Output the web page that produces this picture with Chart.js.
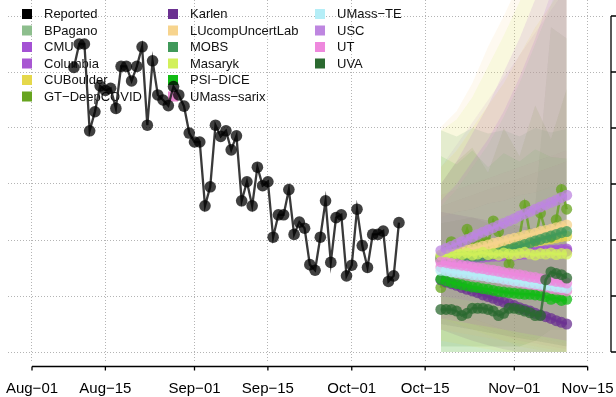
<!DOCTYPE html>
<html>
<head>
<meta charset="utf-8">
<script src="https://cdn.jsdelivr.net/npm/chart.js@4.4.0/dist/chart.umd.min.js"></script>
<style>
  html, body { margin: 0; padding: 0; background: #fff; overflow: hidden; }
</style>
</head>
<body>
<canvas id="forecastChart" width="616" height="397"></canvas>
<script>
// ---- data ----
const tickDates = ['2022-08-01', '2022-08-15', '2022-09-01', '2022-09-15', '2022-10-01', '2022-10-15', '2022-11-01', '2022-11-15'];
const tickLabels = ['Aug−01', 'Aug−15', 'Sep−01', 'Sep−15', 'Oct−01', 'Oct−15', 'Nov−01', 'Nov−15'];
const yTicks = [0, 100, 200, 300, 400, 500, 600];

const reportedStart = '2022-08-09';
const reported = [508, 550, 550, 395, 429, 475, 467, 471, 435, 510, 510, 484, 510, 545, 405, 520, 459, 450, 440, 474,
  459, 439, 391, 375, 375, 261, 295, 405, 385, 395, 361, 386, 270, 304, 261, 330, 297, 304, 205, 245,
  245, 290, 210, 232, 221, 156, 146, 205, 270, 160, 240, 245, 136, 155, 255, 190, 151, 210, 210, 216,
  126, 136, 231];

const forecastStart = '2022-10-18';
const bandDates = ['2022-10-18', '2022-10-21', '2022-10-24', '2022-10-27', '2022-10-30', '2022-11-02', '2022-11-05', '2022-11-08', '2022-11-11'];

const models = ['BPagano', 'CMU', 'Columbia', 'CUBoulder', 'GT−DeepCOVID', 'Karlen', 'LUcompUncertLab', 'MOBS',
  'Masaryk', 'PSI−DICE', 'UMass−sarix', 'UMass−TE', 'USC', 'UT', 'UVA'];
const modelColors = ['#8dbe8d', '#a452d4', '#a857d2', '#e5d84b', '#67a41f', '#6b3191', '#f7d48e', '#40995a',
  '#d2f05a', '#12bb14', '#e987cf', '#b5eef7', '#be86e0', '#ee88dd', '#2b6a30'];

const medBPagano = [165, 166, 166, 167, 168, 168, 169, 170, 170, 171, 172, 172, 173, 174, 174, 175, 176, 176, 177, 178, 178, 179, 180, 180, 181];
const medCMU = [170, 171, 171, 172, 172, 173, 173, 174, 175, 175, 176, 176, 177, 177, 178, 178, 179, 180, 180, 181, 181, 182, 182, 183, 184];
const medColumbia = [164, 165, 165, 166, 167, 167, 168, 169, 169, 170, 171, 171, 172, 173, 173, 174, 175, 175, 176, 177, 177, 178, 179, 179, 180];
const medCUBoulder = [166, 168, 170, 171, 173, 175, 177, 178, 180, 182, 184, 185, 187, 189, 190, 192, 194, 196, 197, 199, 201, 202, 204, 206, 207];
const medGT = [115, 180, 197, 185, 190, 219, 192, 188, 200, 195, 234, 215, 190, 157, 200, 205, 262, 210, 200, 248, 215, 205, 236, 290, 255];
const medKarlen = [129, 125, 122, 119, 115, 112, 109, 106, 102, 99, 96, 92, 89, 86, 83, 79, 76, 73, 69, 66, 63, 60, 56, 53, 50];
const medLUcomp = [170, 172, 175, 177, 179, 182, 184, 186, 189, 191, 194, 196, 198, 201, 203, 205, 208, 210, 212, 215, 217, 219, 222, 224, 227];
const medMOBS = [168, 168, 169, 169, 170, 170, 171, 171, 172, 173, 175, 177, 180, 183, 186, 189, 192, 195, 198, 201, 204, 207, 210, 213, 215];
const medMasaryk = [173, 175, 172, 176, 174, 177, 173, 175, 178, 174, 176, 173, 177, 175, 174, 176, 178, 175, 173, 176, 175, 177, 174, 176, 175];
const medPSI = [130, 127, 124, 122, 120, 118, 116, 115, 113, 112, 110, 108, 107, 106, 105, 104, 103, 103, 102, 101, 99, 94, 97, 92, 94];
const medSarix = [152, 150, 148, 146, 145, 143, 141, 139, 137, 136, 134, 132, 130, 128, 127, 125, 123, 121, 120, 118, 116, 114, 112, 111, 109];
const medTE = [146, 145, 143, 142, 141, 140, 138, 137, 136, 134, 133, 132, 130, 129, 127, 126, 125, 123, 122, 121, 119, 118, 116, 115, 114];
const medUSC = [181, 185, 189, 193, 197, 201, 205, 210, 214, 218, 222, 226, 230, 234, 238, 243, 247, 251, 255, 259, 263, 267, 271, 276, 280];
const medUT = [161, 160, 158, 157, 155, 154, 152, 150, 149, 147, 146, 144, 142, 141, 139, 138, 136, 134, 133, 131, 130, 128, 126, 125, 123];
const medUVA = [76, 76, 76, 73, 65, 69, 78, 78, 78, 76, 73, 65, 69, 78, 78, 76, 73, 70, 65, 65, 129, 143, 140, 138, 132];

const loBPagano = [90, 85, 80, 75, 70, 65, 60, 55, 50], hiBPagano = [260, 290, 330, 370, 420, 480, 550, 620, 700];
const loCMU = [100, 95, 90, 85, 80, 75, 70, 65, 60], hiCMU = [270, 300, 340, 380, 430, 490, 560, 640, 720];
const loColumbia = [60, 55, 50, 45, 40, 35, 30, 25, 20], hiColumbia = [300, 340, 390, 440, 500, 560, 630, 700, 760];
const loCUBoulder = [20, 15, 10, 5, 0, 0, 0, 0, 0], hiCUBoulder = [330, 360, 400, 440, 480, 530, 580, 620, 660];
const loGT = [0, 0, 0, 0, 0, 0, 0, 0, 0], hiGT = [300, 340, 365, 320, 400, 350, 440, 380, 470];
const loKarlen = [40, 30, 20, 12, 5, 0, 0, 0, 0], hiKarlen = [250, 245, 240, 235, 230, 225, 220, 215, 210];
const loLUcomp = [40, 35, 30, 25, 20, 15, 10, 5, 0], hiLUcomp = [402, 430, 480, 545, 600, 660, 720, 780, 840];
const loMOBS = [50, 45, 40, 35, 30, 25, 20, 15, 10], hiMOBS = [396, 385, 400, 390, 396, 385, 400, 392, 398];
const loMasaryk = [60, 50, 40, 30, 20, 10, 5, 0, 0], hiMasaryk = [395, 415, 455, 510, 565, 625, 690, 750, 810];
const loPSI = [0, 0, 0, 0, 0, 0, 0, 0, 0], hiPSI = [350, 335, 360, 330, 355, 340, 362, 348, 345];
const loSarix = [70, 60, 50, 40, 30, 20, 15, 10, 5], hiSarix = [260, 270, 280, 290, 300, 310, 320, 330, 340];
const loTE = [80, 70, 60, 50, 40, 30, 25, 20, 15], hiTE = [240, 250, 255, 265, 270, 280, 285, 295, 300];
const loUSC = [60, 65, 70, 75, 80, 85, 90, 95, 100], hiUSC = [330, 370, 410, 450, 490, 530, 570, 610, 650];
const loUT = [50, 45, 40, 35, 30, 25, 20, 15, 10], hiUT = [280, 290, 300, 310, 320, 330, 340, 350, 360];
const loUVA = [10, 10, 10, 10, 10, 10, 20, 40, 40], hiUVA = [230, 235, 240, 230, 235, 240, 260, 580, 560];

const medians = [medBPagano, medCMU, medColumbia, medCUBoulder, medGT, medKarlen, medLUcomp, medMOBS,
  medMasaryk, medPSI, medSarix, medTE, medUSC, medUT, medUVA];
const lowers = [loBPagano, loCMU, loColumbia, loCUBoulder, loGT, loKarlen, loLUcomp, loMOBS,
  loMasaryk, loPSI, loSarix, loTE, loUSC, loUT, loUVA];
const uppers = [hiBPagano, hiCMU, hiColumbia, hiCUBoulder, hiGT, hiKarlen, hiLUcomp, hiMOBS,
  hiMasaryk, hiPSI, hiSarix, hiTE, hiUSC, hiUT, hiUVA];

// ---- helpers ----
const origin = Date.UTC(2022, 7, 1);
const dayOf = s => (Date.parse(s + 'T00:00:00Z') - origin) / 864e5;
const alpha = (hex, a) => {
  const n = parseInt(hex.slice(1), 16);
  return `rgba(${n >> 16},${(n >> 8) & 255},${n & 255},${a})`;
};
const series = (start, vals) => vals.map((v, i) => ({ x: dayOf(start) + i, y: v }));
const onDates = (dates, vals) => vals.map((v, i) => ({ x: dayOf(dates[i]), y: v }));

const FONT = '"Liberation Sans", Arial, Helvetica, sans-serif';

// ---- datasets ----
const datasets = [];
models.forEach((m, i) => {
  datasets.push({
    data: onDates(bandDates, lowers[i]),
    borderWidth: 0, pointRadius: 0, fill: false, order: 200
  });
  datasets.push({
    data: onDates(bandDates, uppers[i]),
    borderWidth: 0, pointRadius: 0,
    fill: '-1', backgroundColor: alpha(modelColors[i], 0.13), order: 200
  });
});
models.forEach((m, i) => {
  datasets.push({
    label: m,
    data: series(forecastStart, medians[i]),
    borderColor: alpha(modelColors[i], 0.8),
    borderWidth: 2.5,
    pointRadius: 5.5,
    pointBorderWidth: 0,
    pointBackgroundColor: alpha(modelColors[i], 0.75),
    fill: false,
    order: 100 - i
  });
});
datasets.push({
  label: 'Reported',
  data: series(reportedStart, reported),
  borderColor: 'rgba(35,35,35,0.9)',
  borderWidth: 2.3,
  pointRadius: 5.8,
  pointBorderWidth: 0,
  pointBackgroundColor: 'rgba(0,0,0,0.75)',
  fill: false,
  order: 0
});

// ---- R-style axes (line spans first..last tick) ----
const rAxes = {
  id: 'rAxes',
  afterDraw(chart) {
    const { ctx, chartArea, scales: { x, y } } = chart;
    ctx.save();
    ctx.strokeStyle = '#000';
    ctx.lineWidth = 1.3;
    const ay = chartArea.bottom + 3.5;
    const x0 = x.getPixelForValue(dayOf(tickDates[0]));
    const x1 = x.getPixelForValue(dayOf(tickDates[tickDates.length - 1]));
    ctx.beginPath();
    ctx.moveTo(x0, ay); ctx.lineTo(x1, ay);
    tickDates.forEach(d => {
      const px = x.getPixelForValue(dayOf(d));
      ctx.moveTo(px, ay); ctx.lineTo(px, ay + 4);
    });
    ctx.stroke();

    const ax = chartArea.right + 8;
    const y0 = y.getPixelForValue(yTicks[0]);
    const y1 = y.getPixelForValue(yTicks[yTicks.length - 1]);
    ctx.beginPath();
    ctx.moveTo(ax, y0); ctx.lineTo(ax, y1);
    yTicks.forEach(v => {
      const py = y.getPixelForValue(v);
      ctx.moveTo(ax, py); ctx.lineTo(ax + 6, py);
    });
    ctx.stroke();
    ctx.restore();
  }
};

// ---- legend in three columns, drawn under the points ----
const rLegend = {
  id: 'rLegend',
  beforeDatasetsDraw(chart) {
    const { ctx } = chart;
    const names = ['Reported'].concat(models);
    const colors = ['#000000'].concat(modelColors);
    const colX = [22, 168, 315];
    ctx.save();
    ctx.font = '13px ' + FONT;
    ctx.textBaseline = 'middle';
    names.forEach((n, i) => {
      const col = Math.floor(i / 6), row = i % 6;
      const cy = 14 + row * 16.5;
      ctx.fillStyle = colors[i];
      ctx.fillRect(colX[col], cy - 5, 10, 10);
      ctx.fillStyle = '#111';
      ctx.fillText(n, colX[col] + 22, cy + 0.5);
    });
    ctx.restore();
  }
};

const gridStyle = {
  color: '#b4b4b4',
  lineWidth: 1,
  drawTicks: false
};
const dotted = { display: false, dash: [1, 2] };

new Chart(document.getElementById('forecastChart').getContext('2d'), {
  type: 'line',
  data: { datasets },
  options: {
    responsive: false,
    animation: false,
    devicePixelRatio: 1,
    layout: { autoPadding: false, padding: { left: 8, right: 0, top: 0, bottom: 0 } },
    plugins: { legend: { display: false }, tooltip: { enabled: false } },
    elements: { line: { tension: 0 } },
    scales: {
      x: {
        type: 'linear',
        min: -24 / 5.242,
        max: 571 / 5.242,
        border: dotted,
        grid: gridStyle,
        afterBuildTicks: s => { s.ticks = tickDates.map(d => ({ value: dayOf(d) })); },
        afterFit: s => { s.height = 34; s.paddingLeft = 0; s.paddingRight = 0; },
        ticks: {
          autoSkip: false, maxRotation: 0, padding: 17,
          color: '#000', font: { family: FONT, size: 15 },
          callback: (v, i) => tickLabels[i]
        }
      },
      y: {
        type: 'linear',
        position: 'right',
        min: -11 / 0.56,
        max: 352 / 0.56,
        border: dotted,
        grid: gridStyle,
        afterBuildTicks: s => { s.ticks = yTicks.map(v => ({ value: v })); },
        afterFit: s => { s.width = 13; s.paddingTop = 0; s.paddingBottom = 0; },
        ticks: { display: false }
      }
    }
  },
  plugins: [rLegend, rAxes]
});
</script>
</body>
</html>
